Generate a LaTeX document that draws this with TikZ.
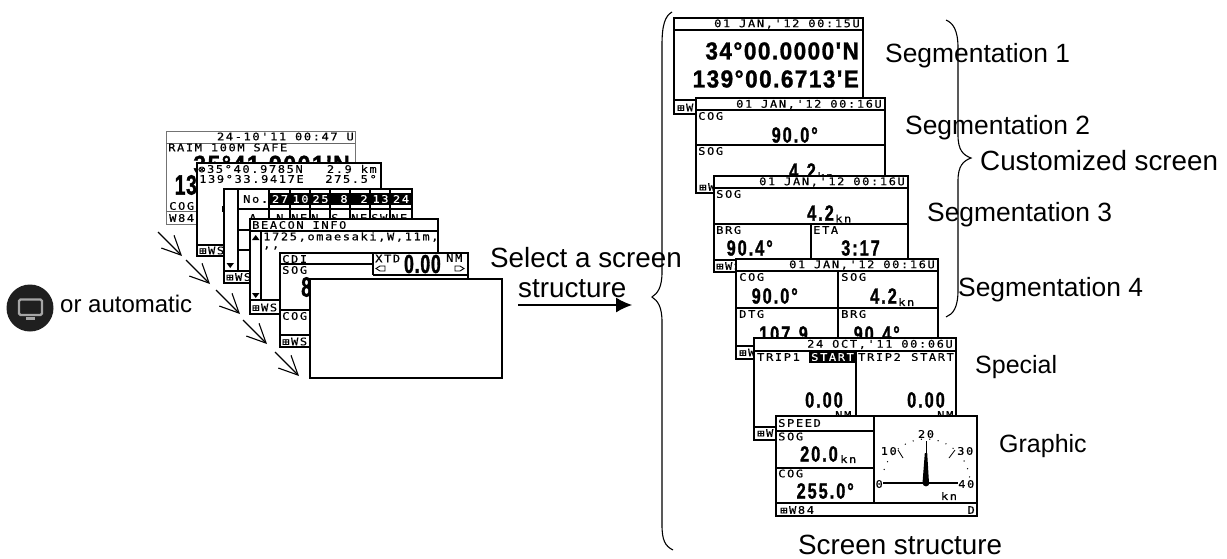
\documentclass[tikz,border=0pt]{standalone}
\usepackage{fontspec}
\usetikzlibrary{arrows.meta}
\setmainfont{Liberation Sans}
\newfontfamily\lcdsm[FakeStretch=1.15,LetterSpace=15,FakeBold=0.4]{DejaVu Sans Mono}
\newfontfamily\lcdbig[FakeStretch=0.74,LetterSpace=9,BoldFeatures={FakeBold=1.2}]{Liberation Sans}
\newfontfamily\lcdwide[FakeStretch=0.92,LetterSpace=6,BoldFeatures={FakeBold=1.2}]{Liberation Sans}
\newfontfamily\lcdnarrow[FakeStretch=0.68,LetterSpace=3,BoldFeatures={FakeBold=1.2}]{Liberation Sans}
\newcounter{tx}
\newcommand{\lcdt}[3]{\stepcounter{tx}\node[lcd,anchor=west] (t\thetx) at (#1,#2) {#3};}
\newcommand{\lcdr}[3]{\stepcounter{tx}\node[lcd,anchor=east] (t\thetx) at (#1,#2) {#3};}
\newcommand{\bign}[5][\lcdbig]{\stepcounter{tx}\node[inner sep=0pt,anchor=east,font=#1\bfseries\fontsize{#4}{#4}\selectfont] (t\thetx) at (#2,#3) {#5};}
\newcommand{\lbl}[4]{\stepcounter{tx}\node[inner sep=0pt,anchor=base west,font=\fontsize{#3}{#3}\selectfont] (t\thetx) at (#1,#2) {#4};}
\newcommand{\scr}[4]{\draw[scrbox] (#1,#2) rectangle (#3,#4);}
\newcommand{\blk}[4]{\fill[black] (#1,#2) rectangle (#3,#4);}
\newcommand{\wht}[3]{\stepcounter{tx}\node[lcd,anchor=center,text=white] (t\thetx) at (#1,#2) {#3};}
\tikzset{
  lcd/.style={inner sep=0pt,font=\lcdsm\fontsize{10.5}{11}\selectfont},
  scrbox/.style={draw=black,fill=white,line width=1.8pt},
  rul/.style={draw=black,line width=1.2pt},
  openarrow/.style={draw=black,line width=1.1pt,-{Straight Barb[length=19pt,width=18pt,line width=1.1pt]}},
  bracestyle/.style={draw=black,line width=1.1pt}
}
\begin{document}
\begin{tikzpicture}[x=1pt,y=-1pt]
\useasboundingbox (0,0) rectangle (1227,558);
\fill[white] (0,0) rectangle (1227,558);

% --- monitor icon
\fill[black!88] (30,308) circle (23.5);
\draw[black!35,line width=2.2pt,rounded corners=1.5pt] (19,299.5) rectangle (42,315);
\fill[black!35] (26,317) rectangle (35,320);
\lbl{60}{312}{24}{or automatic}

% --- left stack
\draw[draw=black!55,fill=white,line width=.6pt] (166,131) rectangle (355,224);
\draw[black!60,line width=.7pt] (166,143) -- (355,143) (166,211) -- (355,211);
\lcdr{354}{136.5}{24-10'11 00:47 U}
\lcdt{168}{147.5}{RAIM 100M SAFE}
\bign[\lcdwide]{350}{164.5}{25}{35°41.9001'N}
\bign[\lcdnarrow]{197}{185}{28}{13}
\lcdt{169}{206}{COG}
\lcdt{169}{218}{W84}

\scr{197}{163}{381}{256}
\draw[rul] (197,245) -- (381,245);
\fill (222,206) rectangle (224.5,212);
\lcdt{198}{169}{⊗35°40.9785N}
\lcdr{377}{169}{2.9 km}
\lcdt{199}{179}{139°33.9417E}
\lcdr{377}{179}{275.5°}
\lcdt{199}{250.5}{⊞WS}

\scr{224}{189}{412}{283}
\draw[rul] (238,189) -- (238,271) (224,271) -- (412,271);
\draw[rul] (238,209) -- (412,209) (238,230) -- (260,230) (238,250) -- (260,250);
\draw[rul] (269,189) -- (269,219) (290,189) -- (290,219) (310,189) -- (310,219) (330,189) -- (330,219) (350,189) -- (350,219) (370,189) -- (370,219) (390,189) -- (390,219);
\blk{270}{193}{290}{205}\blk{291}{193}{310}{205}\blk{311}{193}{330}{205}\blk{331}{193}{350}{205}\blk{351}{193}{370}{205}\blk{371}{193}{390}{205}\blk{391}{193}{411}{205}
\lcdt{243}{199}{No.}
\wht{280}{199}{27}\wht{300.5}{199}{10}\wht{320.5}{199}{25}\wht{344}{199}{8}\wht{364}{199}{2}\wht{380.5}{199}{13}\wht{401}{199}{24}
\lcdt{249}{218}{A}\lcdt{276}{218}{N}\lcdt{291}{218}{NE}\lcdt{311}{218}{N}\lcdt{331}{218}{S}\lcdt{351}{218}{NE}\lcdt{371}{218}{SW}\lcdt{391}{218}{NE}
\fill (226.5,263) -- (234,263) -- (230.2,268) -- cycle;
\lcdt{226}{277}{⊞WS}

\scr{250}{219}{438}{314}
\draw[rul] (250,231) -- (438,231) (261,231) -- (261,300) (250,300) -- (438,300);
\lcdt{252}{225}{BEACON INFO}
\lcdt{263}{237}{1725,omaesaki,W,11m,}
\lcdt{263}{248}{,,}
\fill (252,240) -- (259.5,240) -- (255.7,235) -- cycle;
\fill (252,293) -- (259.5,293) -- (255.7,298) -- cycle;
\lcdt{252}{307.5}{⊞WS}

\scr{280}{253}{468}{347}
\draw[rul] (280,264) -- (373,264) (373,253) -- (373,275) (280,310) -- (310,310) (373,275) -- (468,275) (280,335) -- (310,335);
\lcdt{282}{259}{CDI}
\lcdt{282}{270}{SOG}
\lcdt{375}{258.5}{XTD}
\bign[\lcdnarrow]{441}{264}{26}{0.00}
\lcdt{446}{258}{NM}
\lcdt{282}{316}{COG}
\lcdt{282}{341.5}{⊞WS}
\bign[\lcdnarrow]{312}{287}{28}{8}
\draw[line width=.9pt] (376,268.5) -- (380,266) -- (385,266) -- (385,271) -- (380,271) -- cycle;
\draw[line width=.9pt] (455,266) -- (460,266) -- (464,268.5) -- (460,271) -- (455,271) -- cycle;

\draw[scrbox] (310,279) rectangle (502,378);

% --- arrows
\coordinate (a1s) at (158,232);\coordinate (a1e) at (182,256);
\coordinate (a2s) at (186,260);\coordinate (a2e) at (210,284);
\coordinate (a3s) at (216,290);\coordinate (a3e) at (240,314);
\coordinate (a4s) at (243,320);\coordinate (a4e) at (267,344);
\coordinate (a5s) at (275,352);\coordinate (a5e) at (299,376);
\foreach \i in {1,...,5} {\draw[openarrow] (a\i s) -- (a\i e);}

% --- select label and arrow
\lbl{490}{267}{27.8}{Select a screen}
\lbl{518}{297}{27.8}{structure}
\coordinate (selS) at (518,305);\coordinate (selE) at (632,305);
\draw[draw=black,line width=1.2pt,-{Latex[length=16pt,width=15pt]}] (selS) -- (selE);

% --- right stack
\scr{674}{18}{863}{114}
\draw[rul] (674,30) -- (863,30) (674,100) -- (863,100);
\lcdr{860}{24}{01 JAN,'12 00:15U}
\bign[\lcdwide]{859}{51}{24.5}{34°00.0000'N}
\bign[\lcdwide]{859}{79}{24.5}{139°00.6713'E}
\lcdt{677}{107.5}{⊞WS}

\scr{696}{98}{885}{193}
\draw[rul] (696,110) -- (885,110) (696,145) -- (885,145);
\lcdr{882}{104.5}{01 JAN,'12 00:16U}
\lcdt{698}{116}{COG}
\bign{818}{135}{22}{90.0°}
\lcdt{698}{151}{SOG}
\bign{816}{171}{22}{4.2}
\lcdt{817}{176}{kn}
\lcdt{699}{187}{⊞WS}

\scr{714}{176}{908}{272}
\draw[rul] (714,188) -- (908,188) (714,224) -- (908,224) (811,224) -- (811,260) (714,260) -- (908,260);
\lcdr{905}{182}{01 JAN,'12 00:16U}
\lcdt{716}{194}{SOG}
\bign{834}{213}{22}{4.2}
\lcdt{835}{218.5}{kn}
\lcdt{716}{230}{BRG}
\lcdt{813}{230}{ETA}
\bign{773}{248}{22}{90.4°}
\bign{880}{248}{22}{3:17}
\lcdt{716}{266}{⊞WS}

\scr{736}{259}{938}{359}
\draw[rul] (736,271) -- (938,271) (838,271) -- (838,345) (736,308) -- (938,308) (736,346) -- (938,346);
\lcdr{935}{265}{01 JAN,'12 00:16U}
\lcdt{739}{277}{COG}
\lcdt{841}{277}{SOG}
\bign{798}{296}{22}{90.0°}
\bign{897}{296}{22}{4.2}
\lcdt{898}{302}{kn}
\lcdt{739}{314}{DTG}
\lcdt{841}{314}{BRG}
\bign{808}{334}{22}{107.9}
\bign{900}{334}{22}{90.4°}
\lcdt{739}{352.5}{⊞WS}

\scr{754}{338}{956}{440}
\draw[rul] (754,351) -- (956,351) (856,351) -- (856,427) (754,427) -- (956,427);
\blk{809}{351}{856}{363}
\lcdr{953}{344.5}{24 OCT,'11 00:06U}
\lcdt{757}{357}{TRIP1}
\wht{832.5}{357}{START}
\lcdt{858}{357}{TRIP2}
\lcdr{954}{357}{START}
\bign{843}{400}{22}{0.00}
\bign{945}{400}{22}{0.00}
\lcdt{835}{415}{NM}
\lcdt{937}{415}{NM}
\lcdt{757}{433}{⊞WS}

\scr{776}{416}{977}{516}
\draw[rul] (776,431) -- (874,431) (776,468) -- (874,468) (874,416) -- (874,503) (776,503) -- (977,503);
\lcdt{778}{423}{SPEED}
\lcdt{778}{436.5}{SOG}
\bign{838}{454}{22}{20.0}
\lcdt{840}{459}{kn}
\lcdt{778}{473.5}{COG}
\bign{854}{491}{22}{255.0°}
\lcdt{780}{510}{⊞W84}
\lcdr{975}{510}{D}
% gauge
\draw[line width=1.1pt] (883,483) -- (958,483);
\fill (926,483) circle (3.4);
\fill (922.5,483) -- (924.8,453) -- (927.2,453) -- (929,483) -- cycle;
\draw[line width=.9pt] (926,441) -- (926,456);
\foreach \a in {8,19,...,172} {\fill ({926+44*cos(\a)},{483-44*sin(\a)}) circle (.7);}
\draw[line width=.8pt] (898,450) -- (903,458) (955,450) -- (949,458);
\lcdr{883}{484}{0}
\lcdt{958}{484}{40}
\stepcounter{tx}\node[lcd] (t\thetx) at (926,434) {20};
\lcdr{897}{451}{10}
\lcdt{957}{451}{30}
\stepcounter{tx}\node[lcd] (t\thetx) at (949,496) {kn};

% --- labels
\lbl{885}{62}{26.4}{Segmentation 1}
\lbl{905}{134}{26.4}{Segmentation 2}
\lbl{927}{221}{26.4}{Segmentation 3}
\lbl{958}{296}{26.4}{Segmentation 4}
\lbl{980}{170}{27.8}{Customized screen}
\lbl{975}{373}{25}{Special}
\lbl{999}{452}{25}{Graphic}
\lbl{798}{554}{27.8}{Screen structure}

% --- braces
\draw[bracestyle] (672,12) .. controls (665,16) and (662,25) .. (662,45) -- (662,272) .. controls (662,287) and (658,293) .. (652,297) .. controls (658,301) and (662,307) .. (662,322) -- (662,525) .. controls (662,540) and (665,546) .. (673,550);
\draw[bracestyle] (946,20) .. controls (953,23) and (958,30) .. (958,48) -- (958,135) .. controls (958,150) and (963,155) .. (971,158) .. controls (963,161) and (958,166) .. (958,181) -- (958,290) .. controls (958,308) and (953,314) .. (946,317);
\end{tikzpicture}
\end{document}
